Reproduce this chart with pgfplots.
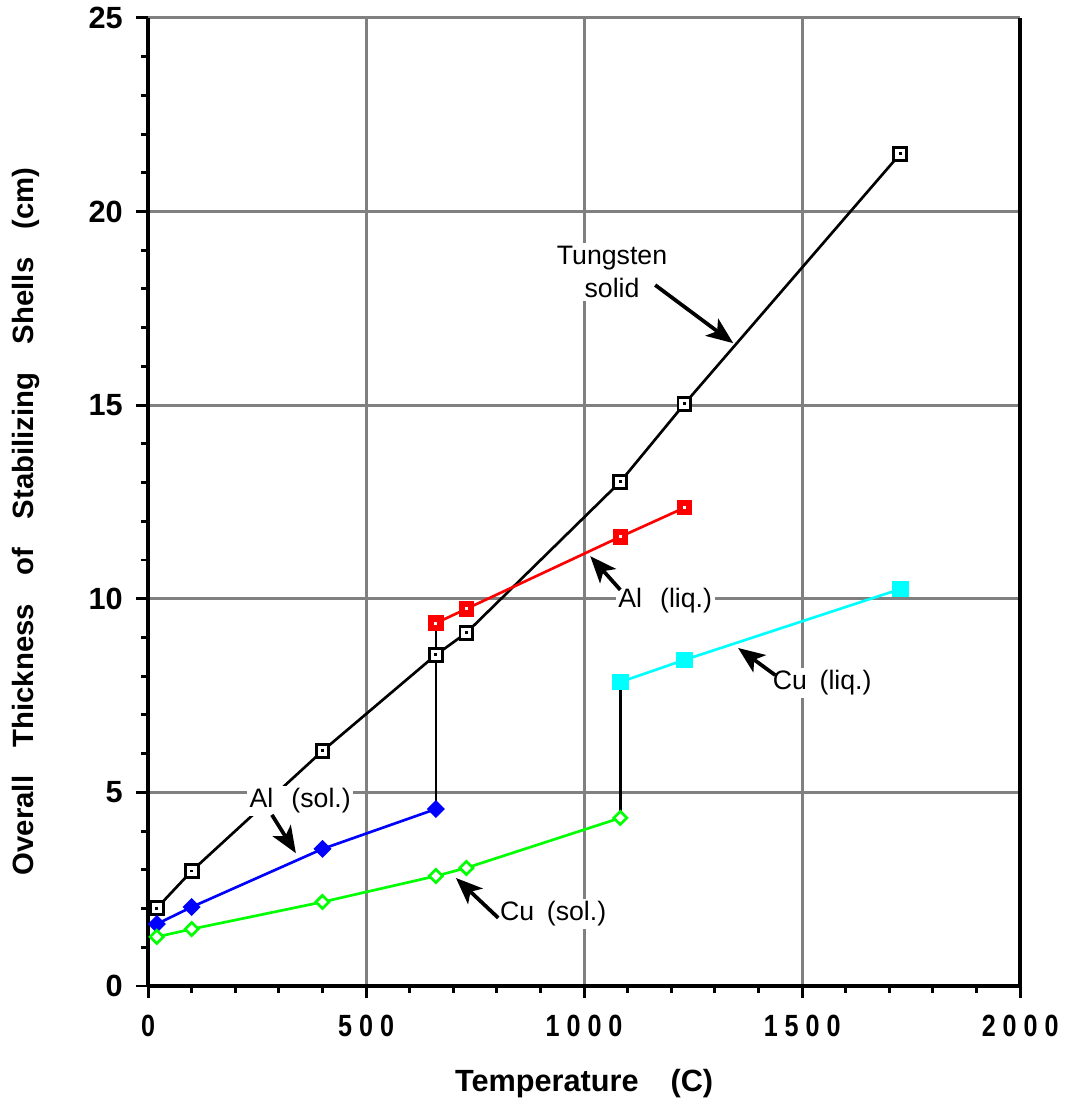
\documentclass[border=0pt]{standalone}
\usepackage{fontspec}
\setmainfont{Liberation Sans}
\newfontfamily\condfont[FakeStretch=0.82]{Liberation Sans}
\usepackage{pgfplots}
\pgfplotsset{compat=1.18}
\usetikzlibrary{arrows.meta}
\definecolor{cuC}{RGB}{0,255,255}
\definecolor{cuS}{RGB}{0,255,0}
\definecolor{alS}{RGB}{0,0,255}
\definecolor{alL}{RGB}{255,0,0}
\pgfdeclareplotmark{sqdotblack}{%
  \pgfpathrectangle{\pgfqpoint{-\pgfplotmarksize}{-\pgfplotmarksize}}{\pgfqpoint{2\pgfplotmarksize}{2\pgfplotmarksize}}%
  \pgfusepathqfillstroke
  \begin{pgfscope}%
  \pgfsetfillcolor{black}%
  \pgfpathrectangle{\pgfqpoint{-0.55pt}{-0.55pt}}{\pgfqpoint{1.1pt}{1.1pt}}%
  \pgfusepathqfill
  \end{pgfscope}}
\pgfdeclareplotmark{sqdotwhite}{%
  \pgfpathrectangle{\pgfqpoint{-\pgfplotmarksize}{-\pgfplotmarksize}}{\pgfqpoint{2\pgfplotmarksize}{2\pgfplotmarksize}}%
  \pgfusepathqfillstroke
  \begin{pgfscope}%
  \pgfsetfillcolor{white}%
  \pgfpathrectangle{\pgfqpoint{-0.55pt}{-0.55pt}}{\pgfqpoint{1.1pt}{1.1pt}}%
  \pgfusepathqfill
  \end{pgfscope}}
\newcommand{\dsp}{\hspace{2.6pt}}
\newcommand{\wsp}{\hspace{7.6pt} }
\begin{document}
\begin{tikzpicture}
\begin{axis}[
  scale only axis, width=326.9pt, height=362.9pt,
  xmin=0, xmax=2000, ymin=0, ymax=25,
  axis x line*=bottom, axis y line*=box,
  ytick pos=left,
  axis line style={black, line width=1.4pt},
  every tick/.style={black, line width=1.1pt},
  tick align=outside,
  major tick length=4.5pt, minor tick length=2.6pt,
  xtick={0,500,1000,1500,2000},
  xticklabels={0,5\dsp0\dsp0,1\dsp0\dsp0\dsp0,1\dsp5\dsp0\dsp0,2\dsp0\dsp0\dsp0},
  ytick={0,5,10,15,20,25},
  /pgf/number format/assume math mode=true,
  minor x tick num=4, minor y tick num=4,
  grid=major,
  major grid style={color=gray, line width=1.1pt},
  xticklabel style={font=\condfont\bfseries\fontsize{11.5}{13}\selectfont, yshift=-3pt},
  yticklabel style={font=\bfseries\fontsize{11.5}{13}\selectfont, xshift=-1.5pt},
  xlabel={Temperature\hspace{12pt}(C)},
  ylabel={Overall\wsp Thickness\wsp of\wsp Stabilizing\wsp Shells\wsp (cm)},
  xlabel style={font=\bfseries\fontsize{11.5}{13}\selectfont, at={(axis description cs:0.5,0)}, anchor=center, yshift=-36.4pt},
  ylabel style={font=\bfseries\fontsize{11}{13}\selectfont, at={(axis description cs:-0.1318,0.48)}, anchor=base},
  clip=false,
]
% vertical connectors
\addplot[black, line width=1pt] coordinates {(660,4.57) (660,9.37)};
\addplot[black, line width=1pt] coordinates {(1083,4.34) (1083,7.85)};
% Tungsten solid
\addplot[black, line width=1pt, mark=sqdotblack, mark size=2.4pt, mark options={fill=white, line width=1.1pt}] coordinates {
(20,2.01) (100,2.97) (400,6.07) (660,8.55) (730,9.12) (1083,13.02) (1230,15.03) (1725,21.49)};
% Al liquid
\addplot[alL, line width=1pt, mark=sqdotwhite, mark size=2.4pt, mark options={fill=alL, line width=1pt}] coordinates {
(660,9.37) (730,9.74) (1083,11.6) (1230,12.35)};
% Cu liquid
\addplot[cuC, line width=1pt, mark=square*, mark size=2.6pt, mark options={fill=cuC}] coordinates {
(1083,7.85) (1230,8.42) (1725,10.25)};
% Al solid
\addplot[alS, line width=1pt, mark=square*, mark size=1.9pt, mark options={fill=alS, rotate=45}] coordinates {
(20,1.60) (100,2.04) (400,3.54) (660,4.57)};
% Cu solid
\addplot[cuS, line width=1pt, mark=square*, mark size=1.75pt, mark options={fill=white, rotate=45, line width=1pt}] coordinates {
(20,1.27) (100,1.47) (400,2.17) (660,2.84) (730,3.05) (1083,4.34)};
% annotations
\node[fill=white, inner sep=1pt, align=center, font=\fontsize{10}{12.7}\selectfont] at (axis cs:1064,18.44) {Tungsten\\solid};
\draw[line width=1.4pt, -{Stealth[length=10pt, width=8pt, inset=2.5pt]}] (axis cs:1163,18.1) -- (axis cs:1342,16.6);
\node[fill=white, inner sep=1pt, font=\fontsize{10}{12}\selectfont] at (axis cs:349,4.78) {Al\hspace{4pt} (sol.)};
\draw[line width=1.4pt, -{Stealth[length=10pt, width=8pt, inset=2.5pt]}] (axis cs:284,4.42) -- (axis cs:339,3.43);
\node[fill=white, inner sep=1pt, font=\fontsize{10}{12}\selectfont] at (axis cs:1186,9.94) {Al\hspace{4pt} (liq.)};
\draw[line width=1.4pt, -{Stealth[length=10pt, width=8pt, inset=2.5pt]}] (axis cs:1083,10.23) -- (axis cs:1014,11.1);
\node[fill=white, inner sep=1pt, font=\fontsize{10}{12}\selectfont] at (axis cs:1546,7.83) {Cu\hspace{2pt} (liq.)};
\draw[line width=1.4pt, -{Stealth[length=10pt, width=8pt, inset=2.5pt]}] (axis cs:1438,8.03) -- (axis cs:1353,8.73);
\node[fill=white, inner sep=1pt, font=\fontsize{10}{12}\selectfont] at (axis cs:929,1.86) {Cu\hspace{2pt} (sol.)};
\draw[line width=1.4pt, -{Stealth[length=10pt, width=8pt, inset=2.5pt]}] (axis cs:803,1.76) -- (axis cs:706,2.79);
\end{axis}
\pgfresetboundingbox
\path (current axis.south west) ++(-55.5pt,-44.6pt) rectangle ([shift={(17.6pt,6.7pt)}]current axis.north east);
\end{tikzpicture}
\end{document}
